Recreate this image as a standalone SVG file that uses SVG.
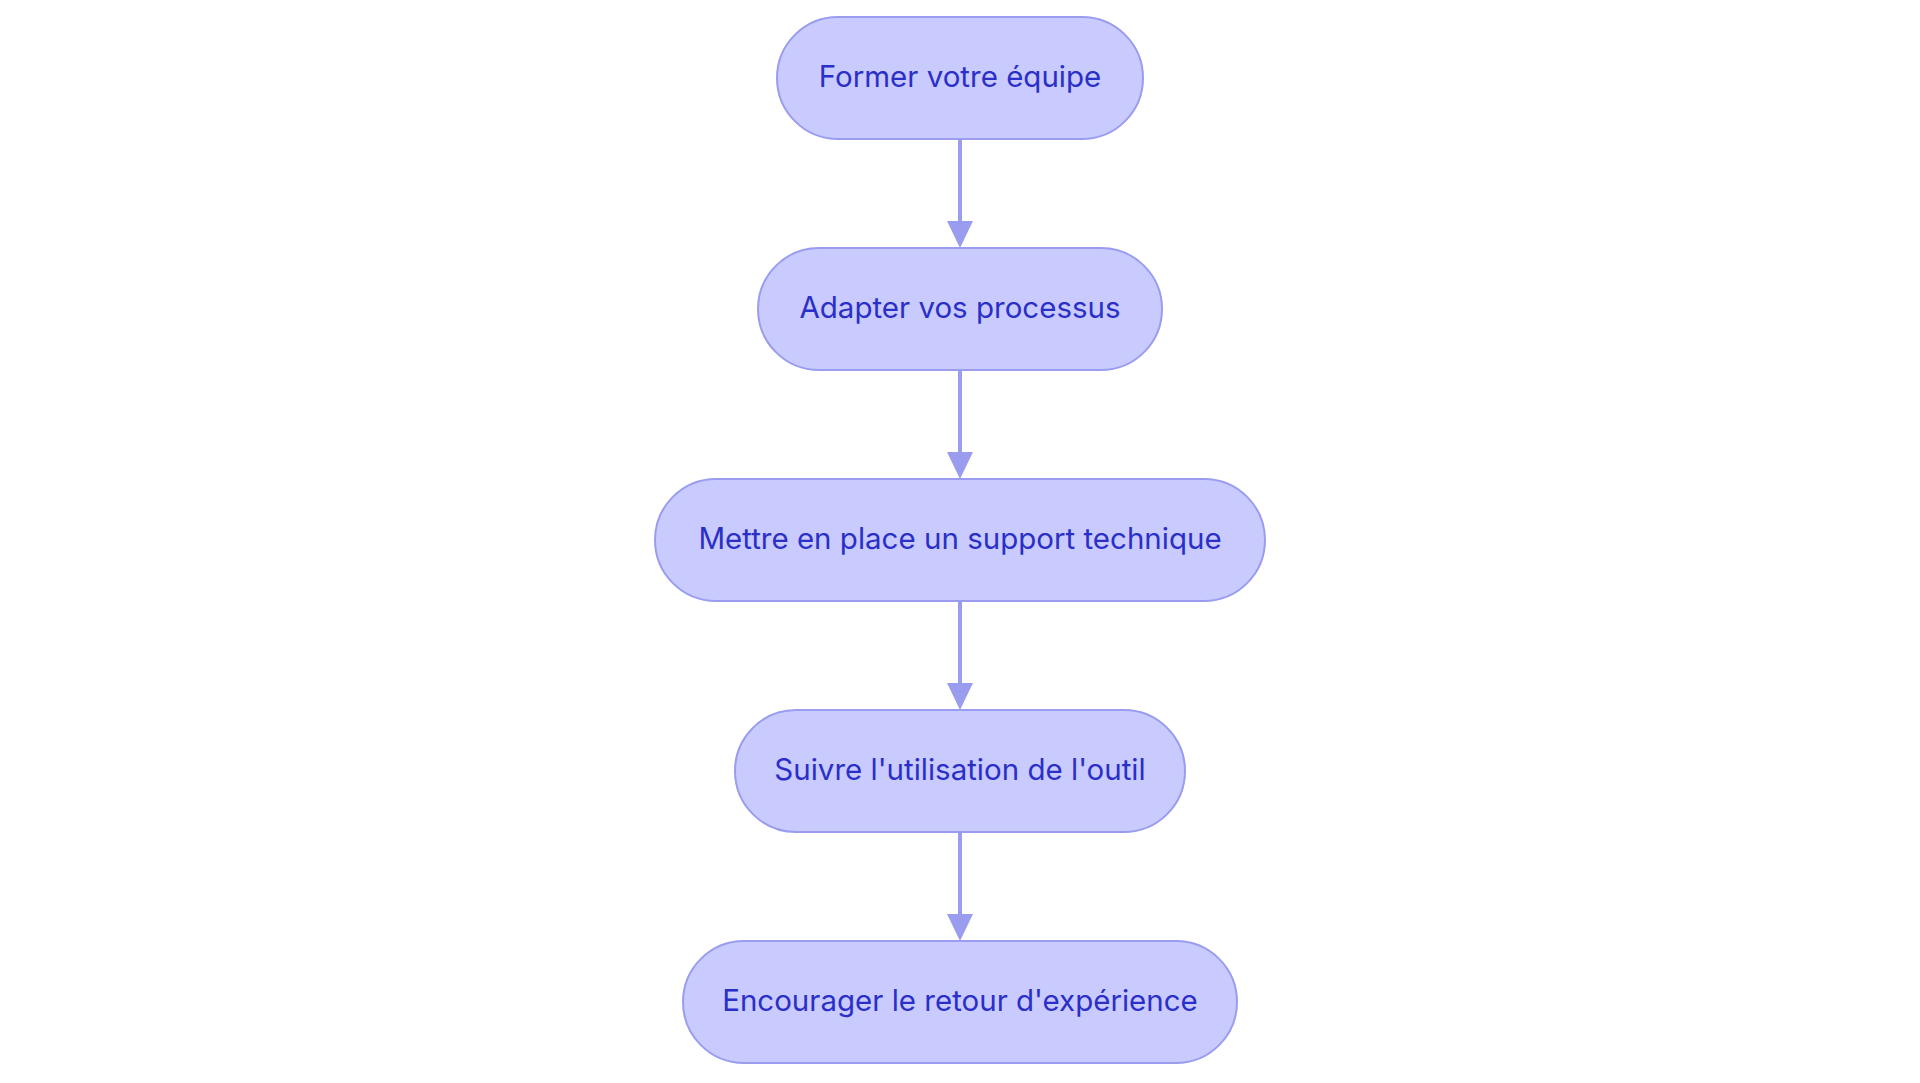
<svg xmlns="http://www.w3.org/2000/svg" width="1920" height="1083" viewBox="0 0 1920 1083">
<style>
.node rect{fill:#c9cafd;stroke:#9a9def;stroke-width:2}
.node text{font-family:Inter,"Noto Sans","Liberation Sans",sans-serif;font-size:29.5px;fill:#2a2fc8;text-anchor:middle;dominant-baseline:central}
.edge{stroke:#9a9def;stroke-width:4;fill:none}
.head{fill:#9a9def}
</style>
<rect width="1920" height="1083" fill="#ffffff"/>
<g id="connectors">
<line class="edge" x1="960" y1="139" x2="960" y2="224"/>
<polygon class="head" points="947,221 973,221 960,248"/>
<line class="edge" x1="960" y1="370" x2="960" y2="455"/>
<polygon class="head" points="947,452 973,452 960,479"/>
<line class="edge" x1="960" y1="601" x2="960" y2="686"/>
<polygon class="head" points="947,683 973,683 960,710"/>
<line class="edge" x1="960" y1="832" x2="960" y2="917"/>
<polygon class="head" points="947,914 973,914 960,941"/>
</g>
<g id="node1" class="node"><rect x="777" y="17" width="366" height="122" rx="61"/><text x="960" y="76">Former votre équipe</text></g>
<g id="node2" class="node"><rect x="758" y="248" width="404" height="122" rx="61"/><text x="960" y="307">Adapter vos processus</text></g>
<g id="node3" class="node"><rect x="655" y="479" width="610" height="122" rx="61"/><text x="960" y="538">Mettre en place un support technique</text></g>
<g id="node4" class="node"><rect x="735" y="710" width="450" height="122" rx="61"/><text x="960" y="769">Suivre l'utilisation de l'outil</text></g>
<g id="node5" class="node"><rect x="683" y="941" width="554" height="122" rx="61"/><text x="960" y="1000">Encourager le retour d'expérience</text></g>
</svg>
